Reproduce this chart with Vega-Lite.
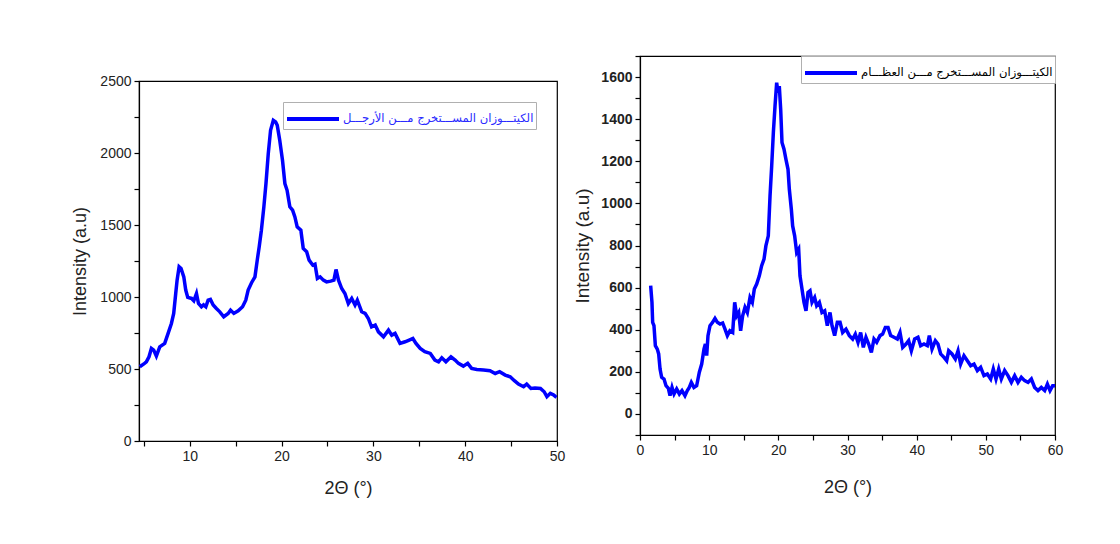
{
  "$schema": "https://vega.github.io/schema/vega-lite/v6.json",
  "padding": {"left": 71, "top": 48, "right": 10, "bottom": 10},
  "background": "white",
  "spacing": 7,
  "align": "none",
  "resolve": {"scale": {"color": "independent"}, "legend": {"color": "independent"}},
  "config": {
    "view": {"stroke": "#000000", "strokeWidth": 1.2},
    "axis": {
      "grid": false,
      "domainColor": "#000000",
      "domainWidth": 1.2,
      "tickColor": "#000000",
      "tickWidth": 1.2,
      "tickSize": 5,
      "labelFont": "Liberation Sans",
      "labelFontSize": 14,
      "labelColor": "#222222",
      "labelPadding": 3,
      "labelOverlap": false,
      "labelFlush": false,
      "titleFont": "Liberation Sans",
      "titleFontSize": 18,
      "titleFontWeight": "normal",
      "titleColor": "#222222"
    },
    "legend": {
      "orient": "top-right",
      "title": null,
      "symbolType": "M-1,0H3",
      "symbolSize": 676,
      "symbolStrokeWidth": 4,
      "labelOffset": 28,
      "labelFont": "DejaVu Sans",
      "labelFontSize": 11.6,
      "labelLimit": 400,
      "strokeColor": "#b0b0b0",
      "fillColor": "white",
      "padding": 2
    }
  },
  "datasets": {
    "left": [
      {"x": 4.55, "y": 516, "series": "الكيتـــوزان المســـتخرج مـــن الأرجـــل"},
      {"x": 5.0, "y": 535, "series": "الكيتـــوزان المســـتخرج مـــن الأرجـــل"},
      {"x": 5.27, "y": 550, "series": "الكيتـــوزان المســـتخرج مـــن الأرجـــل"},
      {"x": 5.56, "y": 585, "series": "الكيتـــوزان المســـتخرج مـــن الأرجـــل"},
      {"x": 5.82, "y": 643, "series": "الكيتـــوزان المســـتخرج مـــن الأرجـــل"},
      {"x": 6.07, "y": 631, "series": "الكيتـــوزان المســـتخرج مـــن الأرجـــل"},
      {"x": 6.36, "y": 590, "series": "الكيتـــوزان المســـتخرج مـــن الأرجـــل"},
      {"x": 6.73, "y": 654, "series": "الكيتـــوزان المســـتخرج مـــن الأرجـــل"},
      {"x": 7.27, "y": 678, "series": "الكيتـــوزان المســـتخرج مـــن الأرجـــل"},
      {"x": 7.64, "y": 747, "series": "الكيتـــوزان المســـتخرج مـــن الأرجـــل"},
      {"x": 8.0, "y": 816, "series": "الكيتـــوزان المســـتخرج مـــن الأرجـــل"},
      {"x": 8.25, "y": 886, "series": "الكيتـــوزان المســـتخرج مـــن الأرجـــل"},
      {"x": 8.47, "y": 1024, "series": "الكيتـــوزان المســـتخرج مـــن الأرجـــل"},
      {"x": 8.62, "y": 1117, "series": "الكيتـــوزان المســـتخرج مـــن الأرجـــل"},
      {"x": 8.84, "y": 1210, "series": "الكيتـــوزان المســـتخرج مـــن الأرجـــل"},
      {"x": 9.05, "y": 1198, "series": "الكيتـــوزان المســـتخرج مـــن الأرجـــل"},
      {"x": 9.35, "y": 1140, "series": "الكيتـــوزان المســـتخرج مـــن الأرجـــل"},
      {"x": 9.56, "y": 1048, "series": "الكيتـــوزان المســـتخرج مـــن الأرجـــل"},
      {"x": 9.78, "y": 997, "series": "الكيتـــوزان المســـتخرج مـــن الأرجـــل"},
      {"x": 10.2, "y": 990, "series": "الكيتـــوزان المســـتخرج مـــن الأرجـــل"},
      {"x": 10.44, "y": 974, "series": "الكيتـــوزان المســـتخرج مـــن الأرجـــل"},
      {"x": 10.73, "y": 1025, "series": "الكيتـــوزان المســـتخرج مـــن الأرجـــل"},
      {"x": 10.95, "y": 955, "series": "الكيتـــوزان المســـتخرج مـــن الأرجـــل"},
      {"x": 11.27, "y": 932, "series": "الكيتـــوزان المســـتخرج مـــن الأرجـــل"},
      {"x": 11.5, "y": 945, "series": "الكيتـــوزان المســـتخرج مـــن الأرجـــل"},
      {"x": 11.75, "y": 932, "series": "الكيتـــوزان المســـتخرج مـــن الأرجـــل"},
      {"x": 12.0, "y": 978, "series": "الكيتـــوزان المســـتخرج مـــن الأرجـــل"},
      {"x": 12.25, "y": 983, "series": "الكيتـــوزان المســـتخرج مـــن الأرجـــل"},
      {"x": 12.55, "y": 944, "series": "الكيتـــوزان المســـتخرج مـــن الأرجـــل"},
      {"x": 12.9, "y": 920, "series": "الكيتـــوزان المســـتخرج مـــن الأرجـــل"},
      {"x": 13.27, "y": 897, "series": "الكيتـــوزان المســـتخرج مـــن الأرجـــل"},
      {"x": 13.7, "y": 863, "series": "الكيتـــوزان المســـتخرج مـــن الأرجـــل"},
      {"x": 14.18, "y": 886, "series": "الكيتـــوزان المســـتخرج مـــن الأرجـــل"},
      {"x": 14.44, "y": 909, "series": "الكيتـــوزان المســـتخرج مـــن الأرجـــل"},
      {"x": 14.8, "y": 886, "series": "الكيتـــوزان المســـتخرج مـــن الأرجـــل"},
      {"x": 15.27, "y": 904, "series": "الكيتـــوزان المســـتخرج مـــن الأرجـــل"},
      {"x": 15.75, "y": 932, "series": "الكيتـــوزان المســـتخرج مـــن الأرجـــل"},
      {"x": 16.1, "y": 978, "series": "الكيتـــوزان المســـتخرج مـــن الأرجـــل"},
      {"x": 16.36, "y": 1048, "series": "الكيتـــوزان المســـتخرج مـــن الأرجـــل"},
      {"x": 16.73, "y": 1099, "series": "الكيتـــوزان المســـتخرج مـــن الأرجـــل"},
      {"x": 17.1, "y": 1140, "series": "الكيتـــوزان المســـتخرج مـــن الأرجـــل"},
      {"x": 17.35, "y": 1256, "series": "الكيتـــوزان المســـتخرج مـــن الأرجـــل"},
      {"x": 17.56, "y": 1348, "series": "الكيتـــوزان المســـتخرج مـــن الأرجـــل"},
      {"x": 17.8, "y": 1464, "series": "الكيتـــوزان المســـتخرج مـــن الأرجـــل"},
      {"x": 18.07, "y": 1626, "series": "الكيتـــوزان المســـتخرج مـــن الأرجـــل"},
      {"x": 18.3, "y": 1788, "series": "الكيتـــوزان المســـتخرج مـــن الأرجـــل"},
      {"x": 18.55, "y": 1996, "series": "الكيتـــوزان المســـتخرج مـــن الأرجـــل"},
      {"x": 18.8, "y": 2158, "series": "الكيتـــوزان المســـتخرج مـــن الأرجـــل"},
      {"x": 19.1, "y": 2227, "series": "الكيتـــوزان المســـتخرج مـــن الأرجـــل"},
      {"x": 19.35, "y": 2216, "series": "الكيتـــوزان المســـتخرج مـــن الأرجـــل"},
      {"x": 19.53, "y": 2192, "series": "الكيتـــوزان المســـتخرج مـــن الأرجـــل"},
      {"x": 19.8, "y": 2088, "series": "الكيتـــوزان المســـتخرج مـــن الأرجـــل"},
      {"x": 20.1, "y": 1950, "series": "الكيتـــوزان المســـتخرج مـــن الأرجـــل"},
      {"x": 20.36, "y": 1788, "series": "الكيتـــوزان المســـتخرج مـــن الأرجـــل"},
      {"x": 20.6, "y": 1741, "series": "الكيتـــوزان المســـتخرج مـــن الأرجـــل"},
      {"x": 20.9, "y": 1626, "series": "الكيتـــوزان المســـتخرج مـــن الأرجـــل"},
      {"x": 21.2, "y": 1603, "series": "الكيتـــوزان المســـتخرج مـــن الأرجـــل"},
      {"x": 21.45, "y": 1556, "series": "الكيتـــوزان المســـتخرج مـــن الأرجـــل"},
      {"x": 21.7, "y": 1487, "series": "الكيتـــوزان المســـتخرج مـــن الأرجـــل"},
      {"x": 22.1, "y": 1464, "series": "الكيتـــوزان المســـتخرج مـــن الأرجـــل"},
      {"x": 22.36, "y": 1337, "series": "الكيتـــوزان المســـتخرج مـــن الأرجـــل"},
      {"x": 22.73, "y": 1314, "series": "الكيتـــوزان المســـتخرج مـــن الأرجـــل"},
      {"x": 23.0, "y": 1256, "series": "الكيتـــوزان المســـتخرج مـــن الأرجـــل"},
      {"x": 23.4, "y": 1221, "series": "الكيتـــوزان المســـتخرج مـــن الأرجـــل"},
      {"x": 23.64, "y": 1228, "series": "الكيتـــوزان المســـتخرج مـــن الأرجـــل"},
      {"x": 23.9, "y": 1129, "series": "الكيتـــوزان المســـتخرج مـــن الأرجـــل"},
      {"x": 24.2, "y": 1140, "series": "الكيتـــوزان المســـتخرج مـــن الأرجـــل"},
      {"x": 24.55, "y": 1117, "series": "الكيتـــوزان المســـتخرج مـــن الأرجـــل"},
      {"x": 24.9, "y": 1105, "series": "الكيتـــوزان المســـتخرج مـــن الأرجـــل"},
      {"x": 25.35, "y": 1110, "series": "الكيتـــوزان المســـتخرج مـــن الأرجـــل"},
      {"x": 25.7, "y": 1117, "series": "الكيتـــوزان المســـتخرج مـــن الأرجـــل"},
      {"x": 25.93, "y": 1191, "series": "الكيتـــوزان المســـتخرج مـــن الأرجـــل"},
      {"x": 26.2, "y": 1117, "series": "الكيتـــوزان المســـتخرج مـــن الأرجـــل"},
      {"x": 26.55, "y": 1059, "series": "الكيتـــوزان المســـتخرج مـــن الأرجـــل"},
      {"x": 26.9, "y": 1024, "series": "الكيتـــوزان المســـتخرج مـــن الأرجـــل"},
      {"x": 27.27, "y": 955, "series": "الكيتـــوزان المســـتخرج مـــن الأرجـــل"},
      {"x": 27.64, "y": 990, "series": "الكيتـــوزان المســـتخرج مـــن الأرجـــل"},
      {"x": 28.0, "y": 944, "series": "الكيتـــوزان المســـتخرج مـــن الأرجـــل"},
      {"x": 28.25, "y": 978, "series": "الكيتـــوزان المســـتخرج مـــن الأرجـــل"},
      {"x": 28.73, "y": 897, "series": "الكيتـــوزان المســـتخرج مـــن الأرجـــل"},
      {"x": 29.1, "y": 886, "series": "الكيتـــوزان المســـتخرج مـــن الأرجـــل"},
      {"x": 29.45, "y": 851, "series": "الكيتـــوزان المســـتخرج مـــن الأرجـــل"},
      {"x": 29.8, "y": 793, "series": "الكيتـــوزان المســـتخرج مـــن الأرجـــل"},
      {"x": 30.2, "y": 805, "series": "الكيتـــوزان المســـتخرج مـــن الأرجـــل"},
      {"x": 30.55, "y": 758, "series": "الكيتـــوزان المســـتخرج مـــن الأرجـــل"},
      {"x": 31.1, "y": 724, "series": "الكيتـــوزان المســـتخرج مـــن الأرجـــل"},
      {"x": 31.64, "y": 770, "series": "الكيتـــوزان المســـتخرج مـــن الأرجـــل"},
      {"x": 32.0, "y": 735, "series": "الكيتـــوزان المســـتخرج مـــن الأرجـــل"},
      {"x": 32.36, "y": 747, "series": "الكيتـــوزان المســـتخرج مـــن الأرجـــل"},
      {"x": 32.9, "y": 678, "series": "الكيتـــوزان المســـتخرج مـــن الأرجـــل"},
      {"x": 33.45, "y": 689, "series": "الكيتـــوزان المســـتخرج مـــن الأرجـــل"},
      {"x": 33.9, "y": 701, "series": "الكيتـــوزان المســـتخرج مـــن الأرجـــل"},
      {"x": 34.3, "y": 712, "series": "الكيتـــوزان المســـتخرج مـــن الأرجـــل"},
      {"x": 34.64, "y": 678, "series": "الكيتـــوزان المســـتخرج مـــن الأرجـــل"},
      {"x": 35.1, "y": 643, "series": "الكيتـــوزان المســـتخرج مـــن الأرجـــل"},
      {"x": 35.6, "y": 620, "series": "الكيتـــوزان المســـتخرج مـــن الأرجـــل"},
      {"x": 36.2, "y": 608, "series": "الكيتـــوزان المســـتخرج مـــن الأرجـــل"},
      {"x": 36.7, "y": 562, "series": "الكيتـــوزان المســـتخرج مـــن الأرجـــل"},
      {"x": 37.1, "y": 550, "series": "الكيتـــوزان المســـتخرج مـــن الأرجـــل"},
      {"x": 37.45, "y": 578, "series": "الكيتـــوزان المســـتخرج مـــن الأرجـــل"},
      {"x": 37.9, "y": 550, "series": "الكيتـــوزان المســـتخرج مـــن الأرجـــل"},
      {"x": 38.45, "y": 585, "series": "الكيتـــوزان المســـتخرج مـــن الأرجـــل"},
      {"x": 38.9, "y": 562, "series": "الكيتـــوزان المســـتخرج مـــن الأرجـــل"},
      {"x": 39.27, "y": 539, "series": "الكيتـــوزان المســـتخرج مـــن الأرجـــل"},
      {"x": 39.8, "y": 520, "series": "الكيتـــوزان المســـتخرج مـــن الأرجـــل"},
      {"x": 40.27, "y": 539, "series": "الكيتـــوزان المســـتخرج مـــن الأرجـــل"},
      {"x": 40.7, "y": 504, "series": "الكيتـــوزان المســـتخرج مـــن الأرجـــل"},
      {"x": 41.27, "y": 497, "series": "الكيتـــوزان المســـتخرج مـــن الأرجـــل"},
      {"x": 42.0, "y": 493, "series": "الكيتـــوزان المســـتخرج مـــن الأرجـــل"},
      {"x": 42.7, "y": 488, "series": "الكيتـــوزان المســـتخرج مـــن الأرجـــل"},
      {"x": 43.27, "y": 469, "series": "الكيتـــوزان المســـتخرج مـــن الأرجـــل"},
      {"x": 43.75, "y": 481, "series": "الكيتـــوزان المســـتخرج مـــن الأرجـــل"},
      {"x": 44.36, "y": 458, "series": "الكيتـــوزان المســـتخرج مـــن الأرجـــل"},
      {"x": 44.9, "y": 446, "series": "الكيتـــوزان المســـتخرج مـــن الأرجـــل"},
      {"x": 45.36, "y": 419, "series": "الكيتـــوزان المســـتخرج مـــن الأرجـــل"},
      {"x": 45.8, "y": 395, "series": "الكيتـــوزان المســـتخرج مـــن الأرجـــل"},
      {"x": 46.36, "y": 377, "series": "الكيتـــوزان المســـتخرج مـــن الأرجـــل"},
      {"x": 46.7, "y": 395, "series": "الكيتـــوزان المســـتخرج مـــن الأرجـــل"},
      {"x": 47.16, "y": 365, "series": "الكيتـــوزان المســـتخرج مـــن الأرجـــل"},
      {"x": 47.6, "y": 368, "series": "الكيتـــوزان المســـتخرج مـــن الأرجـــل"},
      {"x": 48.2, "y": 365, "series": "الكيتـــوزان المســـتخرج مـــن الأرجـــل"},
      {"x": 48.6, "y": 342, "series": "الكيتـــوزان المســـتخرج مـــن الأرجـــل"},
      {"x": 48.9, "y": 308, "series": "الكيتـــوزان المســـتخرج مـــن الأرجـــل"},
      {"x": 49.27, "y": 331, "series": "الكيتـــوزان المســـتخرج مـــن الأرجـــل"},
      {"x": 49.64, "y": 319, "series": "الكيتـــوزان المســـتخرج مـــن الأرجـــل"},
      {"x": 49.95, "y": 303, "series": "الكيتـــوزان المســـتخرج مـــن الأرجـــل"}
    ],
    "right": [
      {"x": 1.54, "y": 609, "series": "الكيتـــوزان المســـتخرج مـــن العظـــام"},
      {"x": 1.73, "y": 530, "series": "الكيتـــوزان المســـتخرج مـــن العظـــام"},
      {"x": 1.83, "y": 435, "series": "الكيتـــوزان المســـتخرج مـــن العظـــام"},
      {"x": 2.02, "y": 419, "series": "الكيتـــوزان المســـتخرج مـــن العظـــام"},
      {"x": 2.22, "y": 324, "series": "الكيتـــوزان المســـتخرج مـــن العظـــام"},
      {"x": 2.5, "y": 308, "series": "الكيتـــوزان المســـتخرج مـــن العظـــام"},
      {"x": 2.7, "y": 285, "series": "الكيتـــوزان المســـتخرج مـــن العظـــام"},
      {"x": 2.9, "y": 213, "series": "الكيتـــوزان المســـتخرج مـــن العظـــام"},
      {"x": 3.13, "y": 174, "series": "الكيتـــوزان المســـتخرج مـــن العظـــام"},
      {"x": 3.47, "y": 166, "series": "الكيتـــوزان المســـتخرج مـــن العظـــام"},
      {"x": 3.76, "y": 134, "series": "الكيتـــوزان المســـتخرج مـــن العظـــام"},
      {"x": 4.1, "y": 122, "series": "الكيتـــوزان المســـتخرج مـــن العظـــام"},
      {"x": 4.34, "y": 87, "series": "الكيتـــوزان المســـتخرج مـــن العظـــام"},
      {"x": 4.63, "y": 126, "series": "الكيتـــوزان المســـتخرج مـــن العظـــام"},
      {"x": 4.92, "y": 95, "series": "الكيتـــوزان المســـتخرج مـــن العظـــام"},
      {"x": 5.3, "y": 119, "series": "الكيتـــوزان المســـتخرج مـــن العظـــام"},
      {"x": 5.69, "y": 95, "series": "الكيتـــوزان المســـتخرج مـــن العظـــام"},
      {"x": 6.07, "y": 111, "series": "الكيتـــوزان المســـتخرج مـــن العظـــام"},
      {"x": 6.5, "y": 87, "series": "الكيتـــوزان المســـتخرج مـــن العظـــام"},
      {"x": 6.84, "y": 111, "series": "الكيتـــوزان المســـتخرج مـــن العظـــام"},
      {"x": 7.13, "y": 126, "series": "الكيتـــوزان المســـتخرج مـــن العظـــام"},
      {"x": 7.42, "y": 150, "series": "الكيتـــوزان المســـتخرج مـــن العظـــام"},
      {"x": 7.8, "y": 126, "series": "الكيتـــوزان المســـتخرج مـــن العظـــام"},
      {"x": 8.19, "y": 134, "series": "الكيتـــوزان المســـتخرج مـــن العظـــام"},
      {"x": 8.58, "y": 198, "series": "الكيتـــوزان المســـتخرج مـــن العظـــام"},
      {"x": 8.92, "y": 237, "series": "الكيتـــوزان المســـتخرج مـــن العظـــام"},
      {"x": 9.25, "y": 308, "series": "الكيتـــوزان المســـتخرج مـــن العظـــام"},
      {"x": 9.45, "y": 332, "series": "الكيتـــوزان المســـتخرج مـــن العظـــام"},
      {"x": 9.64, "y": 277, "series": "الكيتـــوزان المســـتخرج مـــن العظـــام"},
      {"x": 9.83, "y": 372, "series": "الكيتـــوزان المســـتخرج مـــن العظـــام"},
      {"x": 10.12, "y": 419, "series": "الكيتـــوزان المســـتخرج مـــن العظـــام"},
      {"x": 10.5, "y": 435, "series": "الكيتـــوزان المســـتخرج مـــن العظـــام"},
      {"x": 10.84, "y": 454, "series": "الكيتـــوزان المســـتخرج مـــن العظـــام"},
      {"x": 11.18, "y": 435, "series": "الكيتـــوزان المســـتخرج مـــن العظـــام"},
      {"x": 11.57, "y": 427, "series": "الكيتـــوزان المســـتخرج مـــن العظـــام"},
      {"x": 11.95, "y": 432, "series": "الكيتـــوزان المســـتخرج مـــن العظـــام"},
      {"x": 12.29, "y": 403, "series": "الكيتـــوزان المســـتخرج مـــن العظـــام"},
      {"x": 12.63, "y": 372, "series": "الكيتـــوزان المســـتخرج مـــن العظـــام"},
      {"x": 13.0, "y": 395, "series": "الكيتـــوزان المســـتخرج مـــن العظـــام"},
      {"x": 13.4, "y": 387, "series": "الكيتـــوزان المســـتخرج مـــن العظـــام"},
      {"x": 13.69, "y": 530, "series": "الكيتـــوزان المســـتخرج مـــن العظـــام"},
      {"x": 13.98, "y": 466, "series": "الكيتـــوزان المســـتخرج مـــن العظـــام"},
      {"x": 14.27, "y": 482, "series": "الكيتـــوزان المســـتخرج مـــن العظـــام"},
      {"x": 14.55, "y": 395, "series": "الكيتـــوزان المســـتخرج مـــن العظـــام"},
      {"x": 14.84, "y": 466, "series": "الكيتـــوزان المســـتخرج مـــن العظـــام"},
      {"x": 15.18, "y": 506, "series": "الكيتـــوزان المســـتخرج مـــن العظـــام"},
      {"x": 15.52, "y": 482, "series": "الكيتـــوزان المســـتخرج مـــن العظـــام"},
      {"x": 15.9, "y": 553, "series": "الكيتـــوزان المســـتخرج مـــن العظـــام"},
      {"x": 16.24, "y": 530, "series": "الكيتـــوزان المســـتخرج مـــن العظـــام"},
      {"x": 16.53, "y": 593, "series": "الكيتـــوزان المســـتخرج مـــن العظـــام"},
      {"x": 16.87, "y": 617, "series": "الكيتـــوزان المســـتخرج مـــن العظـــام"},
      {"x": 17.25, "y": 656, "series": "الكيتـــوزان المســـتخرج مـــن العظـــام"},
      {"x": 17.59, "y": 704, "series": "الكيتـــوزان المســـتخرج مـــن العظـــام"},
      {"x": 17.93, "y": 735, "series": "الكيتـــوزان المســـتخرج مـــن العظـــام"},
      {"x": 18.2, "y": 798, "series": "الكيتـــوزان المســـتخرج مـــن العظـــام"},
      {"x": 18.55, "y": 846, "series": "الكيتـــوزان المســـتخرج مـــن العظـــام"},
      {"x": 18.8, "y": 1036, "series": "الكيتـــوزان المســـتخرج مـــن العظـــام"},
      {"x": 19.04, "y": 1178, "series": "الكيتـــوزان المســـتخرج مـــن العظـــام"},
      {"x": 19.28, "y": 1336, "series": "الكيتـــوزان المســـتخرج مـــن العظـــام"},
      {"x": 19.52, "y": 1462, "series": "الكيتـــوزان المســـتخرج مـــن العظـــام"},
      {"x": 19.76, "y": 1573, "series": "الكيتـــوزان المســـتخرج مـــن العظـــام"},
      {"x": 19.95, "y": 1526, "series": "الكيتـــوزان المســـتخرج مـــن العظـــام"},
      {"x": 20.14, "y": 1557, "series": "الكيتـــوزان المســـتخرج مـــن العظـــام"},
      {"x": 20.34, "y": 1447, "series": "الكيتـــوزان المســـتخرج مـــن العظـــام"},
      {"x": 20.53, "y": 1289, "series": "الكيتـــوزان المســـتخرج مـــن العظـــام"},
      {"x": 20.82, "y": 1257, "series": "الكيتـــوزان المســـتخرج مـــن العظـــام"},
      {"x": 21.1, "y": 1209, "series": "الكيتـــوزان المســـتخرج مـــن العظـــام"},
      {"x": 21.4, "y": 1162, "series": "الكيتـــوزان المســـتخرج مـــن العظـــام"},
      {"x": 21.59, "y": 1067, "series": "الكيتـــوزان المســـتخرج مـــن العظـــام"},
      {"x": 21.88, "y": 972, "series": "الكيتـــوزان المســـتخرج مـــن العظـــام"},
      {"x": 22.07, "y": 893, "series": "الكيتـــوزان المســـتخرج مـــن العظـــام"},
      {"x": 22.36, "y": 846, "series": "الكيتـــوزان المســـتخرج مـــن العظـــام"},
      {"x": 22.65, "y": 767, "series": "الكيتـــوزان المســـتخرج مـــن العظـــام"},
      {"x": 22.94, "y": 783, "series": "الكيتـــوزان المســـتخرج مـــن العظـــام"},
      {"x": 23.13, "y": 656, "series": "الكيتـــوزان المســـتخرج مـــن العظـــام"},
      {"x": 23.42, "y": 593, "series": "الكيتـــوزان المســـتخرج مـــن العظـــام"},
      {"x": 23.71, "y": 530, "series": "الكيتـــوزان المســـتخرج مـــن العظـــام"},
      {"x": 24.0, "y": 490, "series": "الكيتـــوزان المســـتخرج مـــن العظـــام"},
      {"x": 24.29, "y": 577, "series": "الكيتـــوزان المســـتخرج مـــن العظـــام"},
      {"x": 24.58, "y": 585, "series": "الكيتـــوزان المســـتخرج مـــن العظـــام"},
      {"x": 24.87, "y": 530, "series": "الكيتـــوزان المســـتخرج مـــن العظـــام"},
      {"x": 25.25, "y": 553, "series": "الكيتـــوزان المســـتخرج مـــن العظـــام"},
      {"x": 25.54, "y": 514, "series": "الكيتـــوزان المســـتخرج مـــن العظـــام"},
      {"x": 25.93, "y": 530, "series": "الكيتـــوزان المســـتخرج مـــن العظـــام"},
      {"x": 26.31, "y": 482, "series": "الكيتـــوزان المســـتخرج مـــن العظـــام"},
      {"x": 26.7, "y": 490, "series": "الكيتـــوزان المســـتخرج مـــن العظـــام"},
      {"x": 27.08, "y": 419, "series": "الكيتـــوزان المســـتخرج مـــن العظـــام"},
      {"x": 27.47, "y": 482, "series": "الكيتـــوزان المســـتخرج مـــن العظـــام"},
      {"x": 27.76, "y": 419, "series": "الكيتـــوزان المســـتخرج مـــن العظـــام"},
      {"x": 28.14, "y": 372, "series": "الكيتـــوزان المســـتخرج مـــن العظـــام"},
      {"x": 28.53, "y": 435, "series": "الكيتـــوزان المســـتخرج مـــن العظـــام"},
      {"x": 28.92, "y": 435, "series": "الكيتـــوزان المســـتخرج مـــن العظـــام"},
      {"x": 29.3, "y": 387, "series": "الكيتـــوزان المســـتخرج مـــن العظـــام"},
      {"x": 29.78, "y": 403, "series": "الكيتـــوزان المســـتخرج مـــن العظـــام"},
      {"x": 30.27, "y": 372, "series": "الكيتـــوزان المســـتخرج مـــن العظـــام"},
      {"x": 30.75, "y": 356, "series": "الكيتـــوزان المســـتخرج مـــن العظـــام"},
      {"x": 31.13, "y": 379, "series": "الكيتـــوزان المســـتخرج مـــن العظـــام"},
      {"x": 31.52, "y": 340, "series": "الكيتـــوزان المســـتخرج مـــن العظـــام"},
      {"x": 31.9, "y": 387, "series": "الكيتـــوزان المســـتخرج مـــن العظـــام"},
      {"x": 32.29, "y": 316, "series": "الكيتـــوزان المســـتخرج مـــن العظـــام"},
      {"x": 32.67, "y": 364, "series": "الكيتـــوزان المســـتخرج مـــن العظـــام"},
      {"x": 33.06, "y": 332, "series": "الكيتـــوزان المســـتخرج مـــن العظـــام"},
      {"x": 33.45, "y": 292, "series": "الكيتـــوزان المســـتخرج مـــن العظـــام"},
      {"x": 33.83, "y": 356, "series": "الكيتـــوزان المســـتخرج مـــن العظـــام"},
      {"x": 34.22, "y": 340, "series": "الكيتـــوزان المســـتخرج مـــن العظـــام"},
      {"x": 34.7, "y": 372, "series": "الكيتـــوزان المســـتخرج مـــن العظـــام"},
      {"x": 35.08, "y": 379, "series": "الكيتـــوزان المســـتخرج مـــن العظـــام"},
      {"x": 35.47, "y": 411, "series": "الكيتـــوزان المســـتخرج مـــن العظـــام"},
      {"x": 35.86, "y": 411, "series": "الكيتـــوزان المســـتخرج مـــن العظـــام"},
      {"x": 36.24, "y": 372, "series": "الكيتـــوزان المســـتخرج مـــن العظـــام"},
      {"x": 36.72, "y": 364, "series": "الكيتـــوزان المســـتخرج مـــن العظـــام"},
      {"x": 37.2, "y": 356, "series": "الكيتـــوزان المســـتخرج مـــن العظـــام"},
      {"x": 37.59, "y": 387, "series": "الكيتـــوزان المســـتخرج مـــن العظـــام"},
      {"x": 37.98, "y": 316, "series": "الكيتـــوزان المســـتخرج مـــن العظـــام"},
      {"x": 38.46, "y": 332, "series": "الكيتـــوزان المســـتخرج مـــن العظـــام"},
      {"x": 38.84, "y": 348, "series": "الكيتـــوزان المســـتخرج مـــن العظـــام"},
      {"x": 39.23, "y": 300, "series": "الكيتـــوزان المســـتخرج مـــن العظـــام"},
      {"x": 39.71, "y": 356, "series": "الكيتـــوزان المســـتخرج مـــن العظـــام"},
      {"x": 40.19, "y": 364, "series": "الكيتـــوزان المســـتخرج مـــن العظـــام"},
      {"x": 40.58, "y": 324, "series": "الكيتـــوزان المســـتخرج مـــن العظـــام"},
      {"x": 41.06, "y": 332, "series": "الكيتـــوزان المســـتخرج مـــن العظـــام"},
      {"x": 41.54, "y": 324, "series": "الكيتـــوزان المســـتخرج مـــن العظـــام"},
      {"x": 41.83, "y": 372, "series": "الكيتـــوزان المســـتخرج مـــن العظـــام"},
      {"x": 42.22, "y": 308, "series": "الكيتـــوزان المســـتخرج مـــن العظـــام"},
      {"x": 42.7, "y": 348, "series": "الكيتـــوزان المســـتخرج مـــن العظـــام"},
      {"x": 43.08, "y": 332, "series": "الكيتـــوزان المســـتخرج مـــن العظـــام"},
      {"x": 43.47, "y": 285, "series": "الكيتـــوزان المســـتخرج مـــن العظـــام"},
      {"x": 43.95, "y": 269, "series": "الكيتـــوزان المســـتخرج مـــن العظـــام"},
      {"x": 44.34, "y": 253, "series": "الكيتـــوزان المســـتخرج مـــن العظـــام"},
      {"x": 44.63, "y": 300, "series": "الكيتـــوزان المســـتخرج مـــن العظـــام"},
      {"x": 45.11, "y": 285, "series": "الكيتـــوزان المســـتخرج مـــن العظـــام"},
      {"x": 45.59, "y": 261, "series": "الكيتـــوزان المســـتخرج مـــن العظـــام"},
      {"x": 45.98, "y": 300, "series": "الكيتـــوزان المســـتخرج مـــن العظـــام"},
      {"x": 46.36, "y": 237, "series": "الكيتـــوزان المســـتخرج مـــن العظـــام"},
      {"x": 46.84, "y": 277, "series": "الكيتـــوزان المســـتخرج مـــن العظـــام"},
      {"x": 47.33, "y": 253, "series": "الكيتـــوزان المســـتخرج مـــن العظـــام"},
      {"x": 47.81, "y": 229, "series": "الكيتـــوزان المســـتخرج مـــن العظـــام"},
      {"x": 48.29, "y": 237, "series": "الكيتـــوزان المســـتخرج مـــن العظـــام"},
      {"x": 48.77, "y": 206, "series": "الكيتـــوزان المســـتخرج مـــن العظـــام"},
      {"x": 49.25, "y": 221, "series": "الكيتـــوزان المســـتخرج مـــن العظـــام"},
      {"x": 49.73, "y": 182, "series": "الكيتـــوزان المســـتخرج مـــن العظـــام"},
      {"x": 50.22, "y": 190, "series": "الكيتـــوزان المســـتخرج مـــن العظـــام"},
      {"x": 50.7, "y": 166, "series": "الكيتـــوزان المســـتخرج مـــن العظـــام"},
      {"x": 51.08, "y": 213, "series": "الكيتـــوزان المســـتخرج مـــن العظـــام"},
      {"x": 51.47, "y": 166, "series": "الكيتـــوزان المســـتخرج مـــن العظـــام"},
      {"x": 51.86, "y": 213, "series": "الكيتـــوزان المســـتخرج مـــن العظـــام"},
      {"x": 52.24, "y": 166, "series": "الكيتـــوزان المســـتخرج مـــن العظـــام"},
      {"x": 52.72, "y": 206, "series": "الكيتـــوزان المســـتخرج مـــن العظـــام"},
      {"x": 53.2, "y": 182, "series": "الكيتـــوزان المســـتخرج مـــن العظـــام"},
      {"x": 53.69, "y": 150, "series": "الكيتـــوزان المســـتخرج مـــن العظـــام"},
      {"x": 54.17, "y": 182, "series": "الكيتـــوزان المســـتخرج مـــن العظـــام"},
      {"x": 54.65, "y": 150, "series": "الكيتـــوزان المســـتخرج مـــن العظـــام"},
      {"x": 55.13, "y": 174, "series": "الكيتـــوزان المســـتخرج مـــن العظـــام"},
      {"x": 55.61, "y": 158, "series": "الكيتـــوزان المســـتخرج مـــن العظـــام"},
      {"x": 56.1, "y": 150, "series": "الكيتـــوزان المســـتخرج مـــن العظـــام"},
      {"x": 56.58, "y": 166, "series": "الكيتـــوزان المســـتخرج مـــن العظـــام"},
      {"x": 57.06, "y": 126, "series": "الكيتـــوزان المســـتخرج مـــن العظـــام"},
      {"x": 57.54, "y": 111, "series": "الكيتـــوزان المســـتخرج مـــن العظـــام"},
      {"x": 58.02, "y": 126, "series": "الكيتـــوزان المســـتخرج مـــن العظـــام"},
      {"x": 58.51, "y": 111, "series": "الكيتـــوزان المســـتخرج مـــن العظـــام"},
      {"x": 58.9, "y": 142, "series": "الكيتـــوزان المســـتخرج مـــن العظـــام"},
      {"x": 59.28, "y": 111, "series": "الكيتـــوزان المســـتخرج مـــن العظـــام"},
      {"x": 59.66, "y": 134, "series": "الكيتـــوزان المســـتخرج مـــن العظـــام"},
      {"x": 60.0, "y": 134, "series": "الكيتـــوزان المســـتخرج مـــن العظـــام"}
    ]
  },
  "hconcat": [
    {
      "spacing": 16,
      "resolve": {"scale": {"color": "independent"}, "legend": {"color": "independent"}},
      "vconcat": [
        {
          "width": 418,
          "height": 1,
          "view": {"stroke": null},
          "data": {"name": "left"},
          "mark": {"type": "point", "size": 0, "opacity": 0, "strokeWidth": 0},
          "encoding": {}
        },
        {
          "width": 418,
          "height": 360,
          "data": {"name": "left"},
          "mark": {"type": "line", "strokeWidth": 3.5, "clip": true},
          "encoding": {
            "x": {
              "field": "x", "type": "quantitative",
              "scale": {"domain": [4.47, 50], "nice": false, "zero": false},
              "axis": {
                "title": "2Θ (°)", "titlePadding": 16,
                "values": [5, 10, 15, 20, 25, 30, 35, 40, 45, 50],
                "format": "d",
                "labelExpr": "datum.value % 10 === 0 ? datum.label : ''"
              }
            },
            "y": {
              "field": "y", "type": "quantitative",
              "scale": {"domain": [0, 2500], "nice": false},
              "axis": {
                "title": "Intensity (a.u)", "titlePadding": 10,
                "values": [0, 250, 500, 750, 1000, 1250, 1500, 1750, 2000, 2250, 2500],
                "format": "d",
                "labelExpr": "datum.value % 500 === 0 ? datum.label : ''"
              }
            },
            "color": {
              "field": "series", "type": "nominal",
              "scale": {"range": ["#0000ff"]},
              "legend": {"orient": "top-right", "offset": 21, "labelColor": "#2a2aff"}
            }
          }
        }
      ]
    },
    {
      "width": 415,
      "height": 379,
      "data": {"name": "right"},
      "mark": {"type": "line", "strokeWidth": 3.5, "clip": true},
      "encoding": {
        "x": {
          "field": "x", "type": "quantitative",
          "scale": {"domain": [0, 60], "nice": false},
          "axis": {
            "title": "2Θ (°)", "titlePadding": 21,
            "values": [0, 5, 10, 15, 20, 25, 30, 35, 40, 45, 50, 55, 60],
            "format": "d",
            "labelExpr": "datum.value % 10 === 0 ? datum.label : ''"
          }
        },
        "y": {
          "field": "y", "type": "quantitative",
          "scale": {"domain": [-100, 1700], "nice": false, "zero": false},
          "axis": {
            "title": "Intensity (a.u)", "titlePadding": 8, "titleFontSize": 19,
            "labelFontWeight": "bold",
            "values": [-100, 0, 100, 200, 300, 400, 500, 600, 700, 800, 900, 1000, 1100, 1200, 1300, 1400, 1500, 1600, 1700],
            "format": "d",
            "labelExpr": "datum.value >= 0 && datum.value % 200 === 0 ? datum.label : ''"
          }
        },
        "color": {
          "field": "series", "type": "nominal",
          "scale": {"range": ["#0000ff"]},
          "legend": {"orient": "top-right", "offset": 0, "labelColor": "#000000"}
        }
      }
    }
  ]
}
